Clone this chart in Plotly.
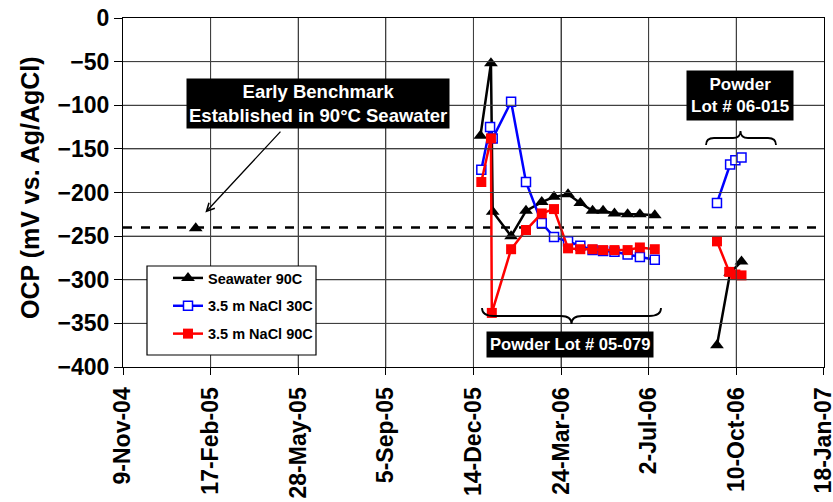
import pandas as pd
import plotly.graph_objects as go

# ---------------- data ----------------
sw_dates = ["2005-01-31", None,
            "2005-12-22", "2006-01-03", "2006-01-05", "2006-01-26", "2006-02-12",
            "2006-03-02", "2006-03-16", "2006-04-01", "2006-04-15", "2006-04-29",
            "2006-05-11", "2006-05-24", "2006-06-08", "2006-06-22", "2006-07-09", None,
            "2006-09-18", "2006-10-03", "2006-10-16"]
sw_vals = [-241, None,
           -135, -52, -222, -250, -221,
           -211, -205, -202, -212, -221,
           -221, -224, -225, -225, -226, None,
           -375, -292, -279]

n30_dates = ["2005-12-23", "2006-01-02", "2006-01-05", "2006-01-26", "2006-02-12",
             "2006-03-02", "2006-03-16", "2006-04-01", "2006-04-15", "2006-04-29",
             "2006-05-11", "2006-05-24", "2006-06-08", "2006-06-22", "2006-07-09", None,
             "2006-09-18", "2006-10-03", "2006-10-09", "2006-10-16"]
n30_vals = [-174, -125, -138, -96, -188,
            -235, -251, -256, -261, -266,
            -267, -268, -271, -274, -277, None,
            -212, -168, -163, -160]

n90_dates = ["2005-12-23", "2006-01-03", "2006-01-04", "2006-01-26", "2006-02-12",
             "2006-03-02", "2006-03-16", "2006-04-01", "2006-04-15", "2006-04-29",
             "2006-05-11", "2006-05-24", "2006-06-08", "2006-06-22", "2006-07-09", None,
             "2006-09-18", "2006-10-02", "2006-10-09", "2006-10-16"]
n90_vals = [-188, -138, -338, -265, -243,
            -224, -219, -264, -265, -265,
            -266, -266, -266, -263, -265, None,
            -256, -291, -294, -295]

benchmark = -240
tick_dates = ["2004-11-09", "2005-02-17", "2005-05-28", "2005-09-05", "2005-12-14",
              "2006-03-24", "2006-07-02", "2006-10-10", "2007-01-18"]
tick_text = ["9-Nov-04", "17-Feb-05", "28-May-05", "5-Sep-05", "14-Dec-05",
             "24-Mar-06", "2-Jul-06", "10-Oct-06", "18-Jan-07"]
y_ticks = [0, -50, -100, -150, -200, -250, -300, -350, -400]

FONT = "Liberation Sans, Arial, sans-serif"
GRID = "#404040"

# plot area in pixels (for decorations)
L, R, T, B = 123, 824, 18, 367


def P(x, y):
    return (x - L) / (R - L), (B - y) / (B - T)


def brace_path(cmds):
    s = ""
    for cmd in cmds:
        coords = cmd[1:]
        s += cmd[0] + " ".join("%.5f,%.5f" % P(coords[i], coords[i + 1])
                               for i in range(0, len(coords), 2)) + " "
    return s


x_end = (pd.Timestamp(tick_dates[-1]) + pd.Timedelta(hours=4)).strftime("%Y-%m-%d %H:%M")

fig = go.Figure()

# benchmark dashed line (under the series)
fig.add_trace(go.Scatter(
    x=[tick_dates[0], x_end], y=[benchmark, benchmark], mode="lines",
    line=dict(color="black", width=2.5, dash="dash"), showlegend=False,
    hoverinfo="skip"))

fig.add_trace(go.Scatter(
    x=sw_dates, y=sw_vals, name="Seawater 90C", mode="lines+markers",
    line=dict(color="black", width=2.5),
    marker=dict(symbol="triangle-up", size=12, color="black"),
    connectgaps=False, legendgroup="a"))
fig.add_trace(go.Scatter(
    x=n30_dates, y=n30_vals, name="3.5 m NaCl 30C", mode="lines+markers",
    line=dict(color="#0000FF", width=2.5),
    marker=dict(symbol="square", size=9, color="white",
                line=dict(color="#0000FF", width=1.5)),
    connectgaps=False, legendgroup="b"))
fig.add_trace(go.Scatter(
    x=n90_dates, y=n90_vals, name="3.5 m NaCl 90C", mode="lines+markers",
    line=dict(color="#FF0000", width=2.5),
    marker=dict(symbol="square", size=10, color="#FF0000"),
    connectgaps=False, legendgroup="c"))

shapes = []
# grid lines at the tick values (shapes, drawn in the top layer)
for d in tick_dates[1:-1]:
    shapes.append(dict(type="line", xref="x", yref="y", x0=d, x1=d,
                       y0=y_ticks[0], y1=y_ticks[-1],
                       line=dict(color=GRID, width=1)))
for v in y_ticks[1:-1]:
    shapes.append(dict(type="line", xref="x", yref="y", x0=tick_dates[0], x1=x_end,
                       y0=v, y1=v, line=dict(color=GRID, width=1)))
# legend frame
x0, y0 = P(147, 266)
x1, y1 = P(316, 355)
shapes.append(dict(type="rect", xref="paper", yref="paper", x0=x0, y0=y0, x1=x1, y1=y1,
                   fillcolor="white", line=dict(color="black", width=1.2), layer="above"))
# bottom brace (Powder Lot 05-079)
bp = brace_path([
    ("M", 482, 308),
    ("Q", 482, 316, 494, 316),
    ("L", 561, 316),
    ("Q", 571.5, 316, 571.5, 324),
    ("Q", 571.5, 316, 582, 316),
    ("L", 649, 316),
    ("Q", 661, 316, 661, 308),
])
shapes.append(dict(type="path", xref="paper", yref="paper", path=bp,
                   line=dict(color="black", width=1.8)))
# top brace (Powder Lot 06-015)
tp = brace_path([
    ("M", 706, 145),
    ("Q", 706, 138, 714, 138),
    ("L", 733, 138),
    ("Q", 740.5, 138, 740.5, 131),
    ("Q", 740.5, 138, 748, 138),
    ("L", 768, 138),
    ("Q", 776, 138, 776, 145),
])
shapes.append(dict(type="path", xref="paper", yref="paper", path=tp,
                   line=dict(color="black", width=1.8)))

annotations = []
# arrow for early benchmark
annotations.append(dict(
    x="2005-02-11", y=-223, xref="x", yref="y",
    ax=283 - 206.5, ay=130 - 212.5, text="",
    showarrow=True, arrowhead=5, arrowsize=1.2, arrowwidth=1.3, arrowcolor="black"))
bx, by = P(317.5, 104)
annotations.append(dict(
    x=bx, y=by, xref="paper", yref="paper", xanchor="center", yanchor="middle",
    showarrow=False,
    text="Early Benchmark<br>Established in 90°C Seawater",
    bgcolor="black", font=dict(color="white", size=18.5, family=FONT, weight="bold"),
    borderpad=2, align="center"))
px_, py_ = P(570, 344.5)
annotations.append(dict(
    x=px_, y=py_, xref="paper", yref="paper", xanchor="center", yanchor="middle",
    showarrow=False, text="Powder Lot # 05-079", bgcolor="black",
    font=dict(color="white", size=16.6, family=FONT, weight="bold"), borderpad=3))
qx, qy = P(740, 95)
annotations.append(dict(
    x=qx, y=qy, xref="paper", yref="paper", xanchor="center", yanchor="middle",
    showarrow=False, text="Powder<br>Lot # 06-015", bgcolor="black",
    font=dict(color="white", size=17, family=FONT, weight="bold"), borderpad=4))
# y-axis title
tx, ty = P(30, 188)
annotations.append(dict(
    x=tx, y=ty, xref="paper", yref="paper", xanchor="center", yanchor="middle",
    showarrow=False, textangle=-90, text="OCP (mV vs. Ag/AgCl)",
    font=dict(color="black", size=25, family=FONT, weight="bold")))

lx, ly = P(168, 262)
fig.update_layout(
    width=833, height=502,
    margin=dict(l=L, r=833 - R, t=T, b=502 - B, autoexpand=False),
    paper_bgcolor="white", plot_bgcolor="white",
    font=dict(family=FONT, color="black"),
    shapes=shapes, annotations=annotations,
    showlegend=True,
    legend=dict(x=lx, y=ly, xanchor="left", yanchor="top",
                bgcolor="rgba(0,0,0,0)", borderwidth=0,
                font=dict(size=14.5, family=FONT, color="black", weight="bold"),
                tracegroupgap=6),
    xaxis=dict(
        type="date", range=[tick_dates[0], x_end],
        tickvals=tick_dates, ticktext=tick_text, tickangle=-90,
        tickfont=dict(size=23, family=FONT, color="black", weight="bold"),
        ticklabelstandoff=3, ticklabeloverflow="allow",
        showgrid=True, gridcolor=GRID, gridwidth=1,
        showline=True, linecolor="black", linewidth=1.2, mirror=True,
        ticks="outside", ticklen=7, tickcolor="black", zeroline=False,
        automargin=False),
    yaxis=dict(
        range=[-400, 0], tickvals=y_ticks,
        tickfont=dict(size=23, family=FONT, color="black", weight="bold"),
        showgrid=True, gridcolor=GRID, gridwidth=1,
        showline=True, linecolor="black", linewidth=1.2, mirror=True,
        ticks="outside", ticklen=8, tickcolor="black", zeroline=False,
        automargin=False),
)

fig.write_html("out.html", config={"displayModeBar": False},
               post_script="document.body.style.margin='0px';")
